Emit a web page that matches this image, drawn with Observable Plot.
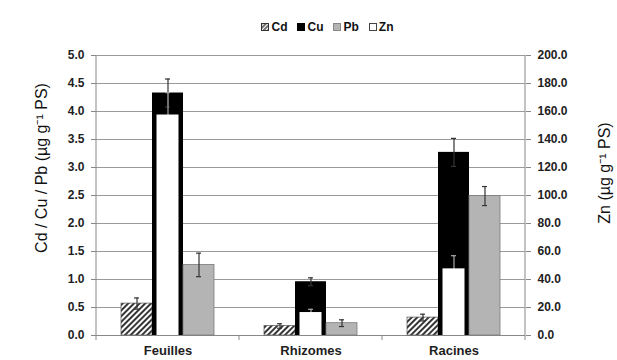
<!DOCTYPE html>
<html><head><meta charset="utf-8">
<script src="https://cdn.jsdelivr.net/npm/d3@7"></script>
<script src="https://cdn.jsdelivr.net/npm/@observablehq/plot@0.6"></script>
<style>
body{margin:0;background:#fff;font-family:"Liberation Sans",Arial,sans-serif;}
#wrap{position:relative;width:617px;height:360px;overflow:hidden;background:#fff}
#legend{position:absolute;left:0;top:0;width:617px;height:40px;display:flex;justify-content:center;align-items:center;gap:10px;font-weight:bold;font-size:12px;color:#111;padding-left:38px;padding-top:14px;box-sizing:border-box}
.item{display:flex;align-items:center;gap:2px}
#chart{position:absolute;left:0;top:40px}
.ttl{position:absolute;font-size:16px;color:#111;white-space:nowrap;transform-origin:center center}
</style></head><body>
<div id="wrap">
<div id="legend"></div>
<div id="chart"></div>
<div class="ttl" id="tl"></div>
<div class="ttl" id="tr"></div>
</div>
<script>
const categories = ["Feuilles", "Rhizomes", "Racines"];
const leftSeries = ["Cd", "Cu", "Pb"];
const rightSeries = "Zn";
const cd = [0.57, 0.17, 0.32];
const cdErr = [0.10, 0.04, 0.06];
const cu = [4.33, 0.96, 3.27];
const cuErr = [0.25, 0.07, 0.25];
const pb = [1.26, 0.22, 2.49];
const pbErr = [0.21, 0.06, 0.17];
const zn = [157.5, 16.4, 47.6];
const znErr = [16, 2.3, 9.4];
const leftTicks = [0.0, 0.5, 1.0, 1.5, 2.0, 2.5, 3.0, 3.5, 4.0, 4.5, 5.0];
const rightTicks = [0.0, 20.0, 40.0, 60.0, 80.0, 100.0, 120.0, 140.0, 160.0, 180.0, 200.0];
const leftTitle = "Cd / Cu / Pb (µg g⁻¹ PS)";
const rightTitle = "Zn (µg g⁻¹ PS)";

const ratio = rightTicks[rightTicks.length - 1] / leftTicks[leftTicks.length - 1];
const rows = [];
categories.forEach((c, i) => {
  rows.push({cat: c, s: "Cd", v: cd[i], e: cdErr[i]});
  rows.push({cat: c, s: "Cu", v: cu[i], e: cuErr[i]});
  rows.push({cat: c, s: "Pb", v: pb[i], e: pbErr[i]});
});
const znRows = categories.map((c, i) => ({cat: c, s: "Cu", v: zn[i] / ratio, e: znErr[i] / ratio}));
const only = s => rows.filter(d => d.s === s);

const errMarks = (data, color) => [
  Plot.ruleX(data, {fx: "cat", x: "s", y1: d => d.v - d.e, y2: d => d.v + d.e, stroke: color, strokeWidth: 1.2}),
  Plot.tickY(data, {fx: "cat", x: "s", y: d => d.v + d.e, stroke: color, strokeWidth: 1.2, inset: 13}),
  Plot.tickY(data, {fx: "cat", x: "s", y: d => d.v - d.e, stroke: color, strokeWidth: 1.2, inset: 13})
];

const plot = Plot.plot({
  width: 617, height: 320,
  marginLeft: 96, marginRight: 92, marginTop: 15, marginBottom: 25,
  style: {fontFamily: "'Liberation Sans', Arial, sans-serif", fontSize: "12px", background: "white", overflow: "visible"},
  fx: {domain: categories, padding: 0, label: null},
  x: {domain: leftSeries, paddingInner: 0, paddingOuter: 0.77, axis: null},
  y: {domain: [0, 5], axis: null},
  marks: [
    Plot.gridY(leftTicks.slice(1), {stroke: "#9a9a9a", strokeOpacity: 1}),
    Plot.ruleY([0], {stroke: "#888"}),
    Plot.barY(only("Cd"), {fx: "cat", x: "s", y: "v", fill: "url(#hatch)", stroke: "#555", strokeWidth: 0.7}),
    Plot.barY(only("Cu"), {fx: "cat", x: "s", y: "v", fill: "#000"}),
    Plot.barY(only("Pb"), {fx: "cat", x: "s", y: "v", fill: "#b4b4b4", stroke: "#7a7a7a", strokeWidth: 0.8}),
    ...errMarks(only("Cd"), "#333"),
    ...errMarks(only("Cu"), "#333"),
    ...errMarks(only("Pb"), "#333"),
    ...errMarks(znRows, "#a8a8a8"),
    Plot.barY(znRows, {fx: "cat", x: "s", y: "v", fill: "#fff", insetLeft: 4.5, insetRight: 4.5}),
    Plot.axisY(leftTicks, {anchor: "left", tickFormat: d => d.toFixed(1), tickSize: 5, tickPadding: 7, stroke: "#888", fill: "#1e1e1e", fontWeight: "bold", fontSize: 12, label: null}),
    Plot.axisY(leftTicks, {anchor: "right", tickFormat: d => (d * ratio).toFixed(1), tickSize: 5, tickPadding: 7, stroke: "#888", fill: "#1e1e1e", fontWeight: "bold", fontSize: 12, label: null}),
    Plot.axisFx({anchor: "bottom", tickSize: 0, tickPadding: 10, fill: "#1e1e1e", fontWeight: "bold", fontSize: 13, label: null})
  ]
});

const svg = d3.select(plot);
svg.insert("defs", ":first-child").html(
  '<pattern id="hatch" patternUnits="userSpaceOnUse" width="4" height="4" patternTransform="rotate(45)">' +
  '<rect width="4" height="4" fill="white"/><line x1="1" y1="0" x2="1" y2="4" stroke="#111" stroke-width="1.7"/></pattern>'
);
// axis lines and category boundary ticks using the plot's scales
const fx = plot.scale("fx"), y = plot.scale("y");
const edges = categories.map(c => fx.apply(c)).concat([fx.apply(categories[categories.length - 1]) + fx.bandwidth]);
const y0 = y.apply(0), yTop = y.apply(5);
const g = svg.append("g").attr("stroke", "#888");
[edges[0], edges[edges.length - 1]].forEach(x => g.append("line").attr("x1", x).attr("x2", x).attr("y1", yTop).attr("y2", y0));
edges.forEach(x => g.append("line").attr("x1", x).attr("x2", x).attr("y1", y0).attr("y2", y0 + 5));

document.getElementById("chart").appendChild(plot);

// legend
const sw = {
  Cd: '<svg width="8" height="8"><defs><pattern id="lh" patternUnits="userSpaceOnUse" width="3" height="3" patternTransform="rotate(45)"><line x1="1" y1="0" x2="1" y2="3" stroke="#111" stroke-width="1.2"/></pattern></defs><rect x="0.5" y="0.5" width="7" height="7" fill="url(#lh)" stroke="#333"/></svg>',
  Cu: '<svg width="8" height="8"><rect x="0" y="0" width="8" height="8" fill="#000"/></svg>',
  Pb: '<svg width="8" height="8"><rect x="0.5" y="0.5" width="7" height="7" fill="#b4b4b4" stroke="#888"/></svg>',
  Zn: '<svg width="8" height="8"><rect x="0.5" y="0.5" width="7" height="7" fill="#fff" stroke="#444"/></svg>'
};
const legend = document.getElementById("legend");
leftSeries.concat([rightSeries]).forEach(s => {
  const it = document.createElement("span");
  it.className = "item";
  it.innerHTML = sw[s] + "<span>" + s + "</span>";
  legend.appendChild(it);
});

// axis titles
const tl = document.getElementById("tl"), tr = document.getElementById("tr");
tl.textContent = leftTitle; tr.textContent = rightTitle;
function place(el, cx, cy) {
  const w = el.offsetWidth, h = el.offsetHeight;
  el.style.left = (cx - w / 2) + "px";
  el.style.top = (cy - h / 2) + "px";
  el.style.transform = "rotate(-90deg)";
}
place(tl, 41, 168);
place(tr, 603, 173);
</script>
</body></html>
